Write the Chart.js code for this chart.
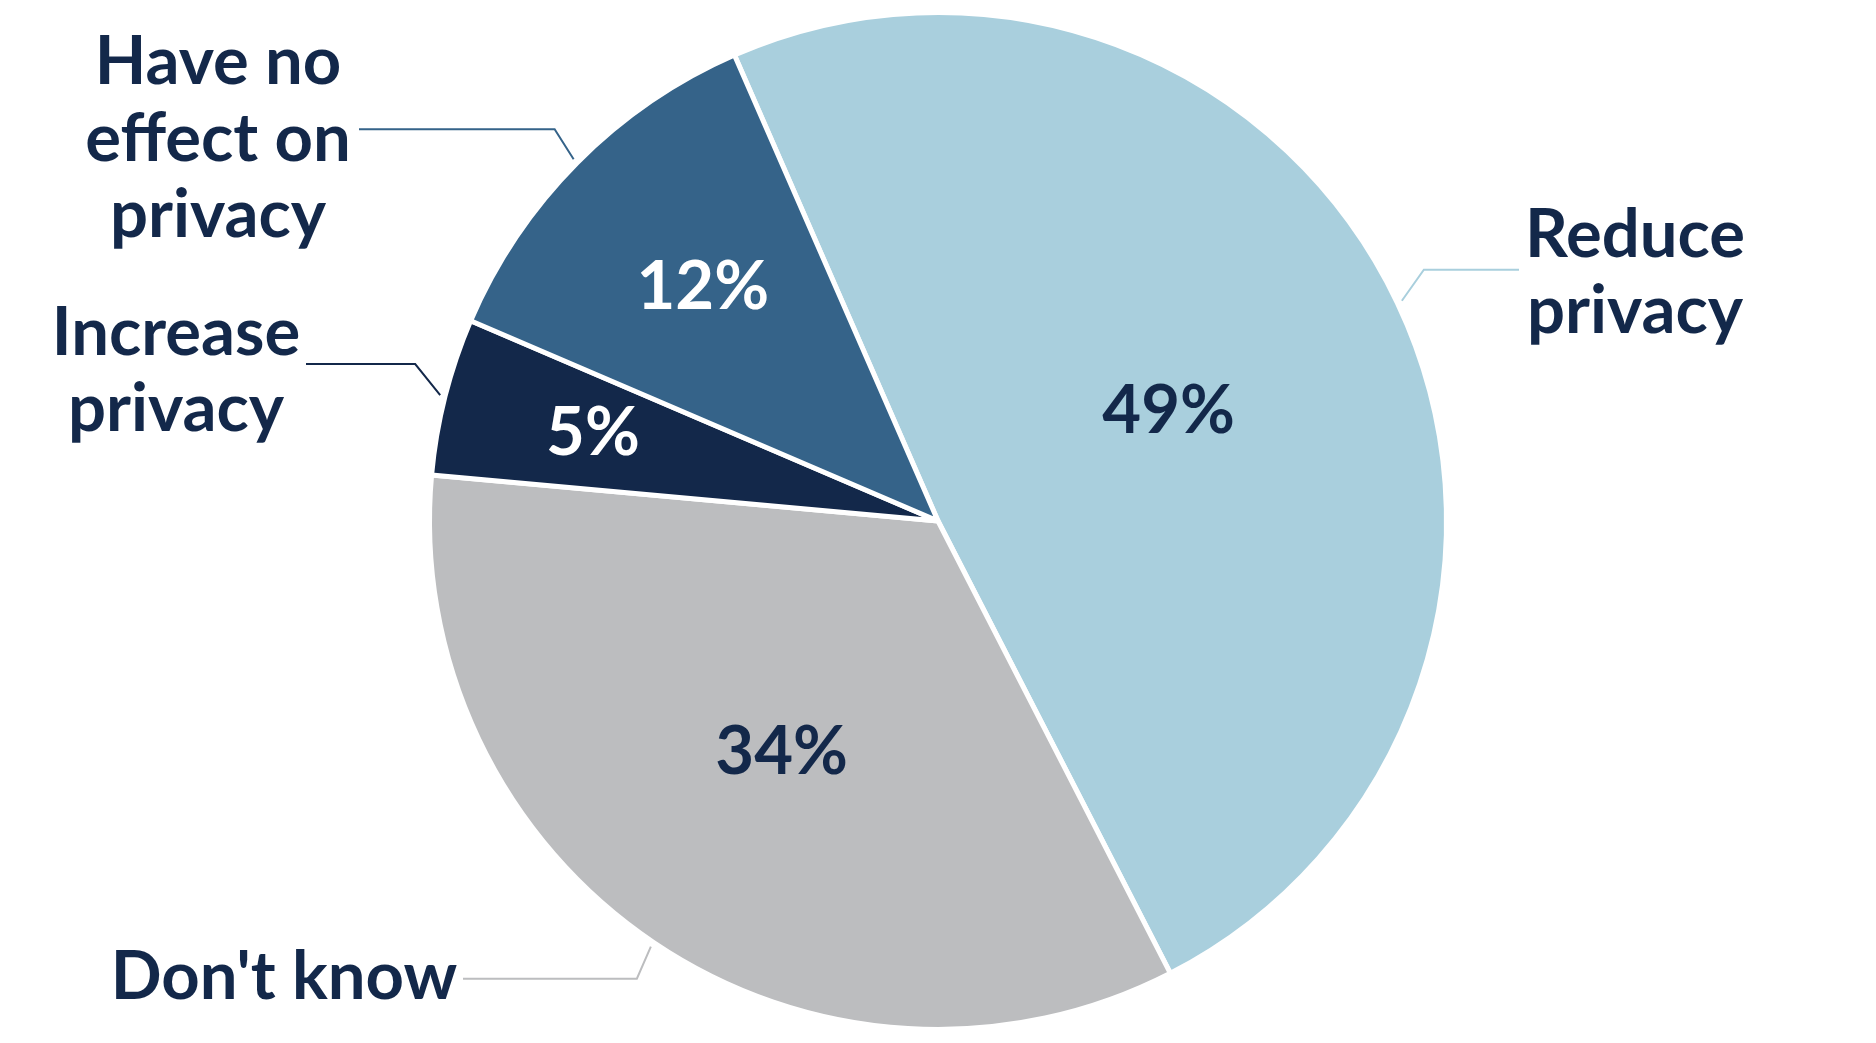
<!DOCTYPE html>
<html>
<head>
<meta charset="utf-8">
<script src="https://cdn.jsdelivr.net/npm/chart.js@4"></script>
<style>
  html, body { margin: 0; padding: 0; background: #ffffff; }
  #PieChart { display: block; }
</style>
</head>
<body>
<canvas id="PieChart" width="1876" height="1043"></canvas>
<script>
// Chart values
const categories = ['Reduce privacy', "Don't know", 'Increase privacy', 'Have no effect on privacy'];
const shares = [49, 34, 5, 12];
const percentLabels = ['49%', '34%', '5%', '12%'];
const categoryLines = [['Reduce', 'privacy'], ["Don't know"], ['Increase', 'privacy'], ['Have no', 'effect on', 'privacy']];

const sliceColors = ['#a9cfdd', '#bcbdbf', '#13284a', '#356389'];
const percentColors = ['#13284a', '#13284a', '#ffffff', '#ffffff'];
const textColor = '#13284a';
const FONT = 'bold 67px Lato, "Open Sans", sans-serif';

// where each outside label sits (leader elbow offsets, text position)
const labelLayout = [
  { dx: 22, dy: -31, endX: 1519, textX: 1635, baselines: [257, 333], align: 'center' },
  { dx: -14, dy: 32, endX: 463, textX: 284, baselines: [999], align: 'center' },
  { dx: -25, dy: -31, endX: 306, textX: 176, baselines: [355, 431], align: 'center' },
  { dx: -19, dy: -30, endX: 359, textX: 218, baselines: [84, 161, 237], align: 'center' }
];
// radius fraction for the % labels inside the slices
const percentRadius = [0.502, 0.55, 0.70, 0.652];

const pieLabels = {
  id: 'pieLabels',
  afterDatasetsDraw(chart) {
    const ctx = chart.ctx;
    const arcs = chart.getDatasetMeta(0).data;
    ctx.save();
    ctx.font = FONT;
    arcs.forEach((arc, i) => {
      const mid = (arc.startAngle + arc.endAngle) / 2;
      const r = arc.outerRadius;

      // percent inside slice
      ctx.fillStyle = percentColors[i];
      ctx.textAlign = 'center';
      ctx.textBaseline = 'middle';
      ctx.fillText(percentLabels[i],
        arc.x + Math.cos(mid) * r * percentRadius[i],
        arc.y + Math.sin(mid) * r * percentRadius[i]);

      // leader line
      const lay = labelLayout[i];
      const sx = arc.x + Math.cos(mid) * (r + 5);
      const sy = arc.y + Math.sin(mid) * (r + 5);
      ctx.strokeStyle = sliceColors[i];
      ctx.lineWidth = 2;
      ctx.beginPath();
      ctx.moveTo(sx, sy);
      ctx.lineTo(sx + lay.dx, sy + lay.dy);
      ctx.lineTo(lay.endX, sy + lay.dy);
      ctx.stroke();

      // category text
      ctx.fillStyle = textColor;
      ctx.textAlign = lay.align;
      ctx.textBaseline = 'alphabetic';
      categoryLines[i].forEach((line, j) => {
        ctx.fillText(line, lay.textX, lay.baselines[j]);
      });
    });
    ctx.restore();
  }
};

const data = {
  labels: categories,
  datasets: [{
    data: shares,
    backgroundColor: sliceColors,
    borderColor: '#ffffff',
    borderWidth: 5
  }]
};

const config = {
  type: 'pie',
  data: data,
  options: {
    responsive: false,
    animation: false,
    rotation: -23.6,
    layout: { padding: { top: 10, bottom: 11 } },
    plugins: {
      legend: { display: false },
      tooltip: { enabled: false }
    }
  },
  plugins: [pieLabels]
};

document.fonts.load(FONT).then(() => {
  const pieCtx = document.getElementById('PieChart').getContext('2d');
  new Chart(pieCtx, config);
});
</script>
</body>
</html>
